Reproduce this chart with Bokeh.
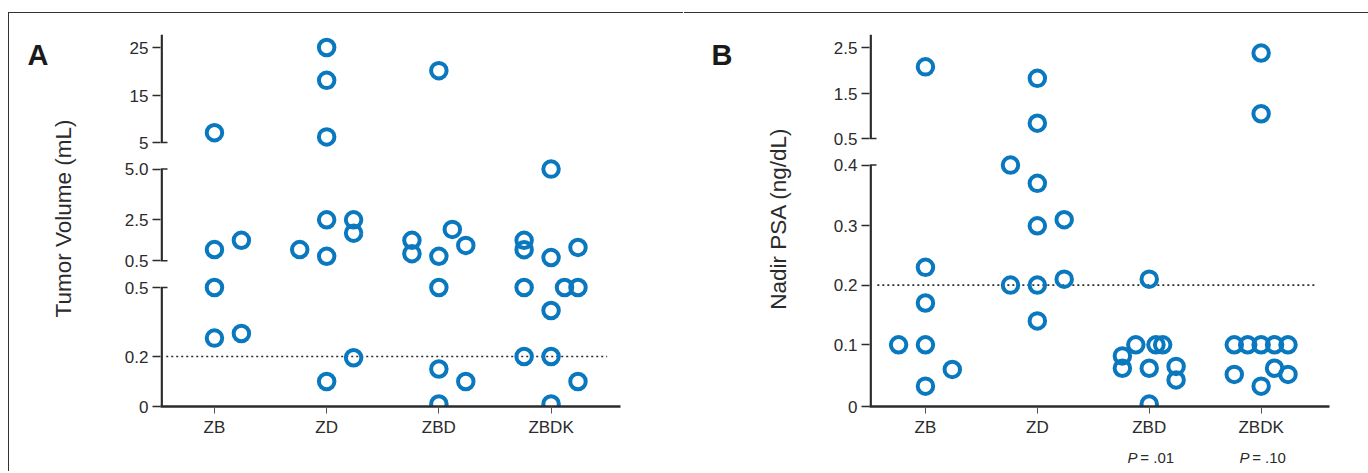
import numpy as np
from bokeh.plotting import figure
from bokeh.layouts import row
from bokeh.models import Range1d, FixedTicker, Label, InlineStyleSheet
from bokeh.embed import file_html
from bokeh.resources import INLINE

# ---------------- data ----------------
categories = ["ZB", "ZD", "ZBD", "ZBDK"]

# Panel A: tumor volume (mL); slot = horizontal jitter step of each point
tv_zb = [7.1, 1.05, 1.5, 0.5, 0.28, 0.3]
tv_zb_slot = [0, 0, 2, 0, 0, 2]
tv_zd = [25, 18.2, 6.2, 2.5, 2.5, 1.85, 1.05, 0.72, 0.195, 0.1]
tv_zd_slot = [0, 0, 0, 0, 2, 2, -2, 0, 2, 0]
tv_zbd = [20.2, 2.03, 1.5, 0.85, 0.72, 1.25, 0.5, 0.15, 0.1, 0.01]
tv_zbd_slot = [0, 1, -2, -2, 0, 2, 0, 0, 2, 0]
tv_zbdk = [5.0, 1.5, 1.04, 0.66, 1.15, 0.5, 0.5, 0.5, 0.4, 0.2, 0.2, 0.1, 0.01]
tv_zbdk_slot = [0, -2, -2, 0, 2, -2, 1, 2, 0, -2, 0, 2, 0]

# Panel B: nadir PSA (ng/dL)
psa_zb = [2.08, 0.23, 0.17, 0.1, 0.1, 0.06, 0.033]
psa_zb_slot = [0, 0, 0, -2, 0, 2, 0]
psa_zd = [1.83, 0.84, 0.4, 0.37, 0.3, 0.31, 0.2, 0.2, 0.21, 0.14]
psa_zd_slot = [0, 0, -2, 0, 0, 2, -2, 0, 2, 0]
psa_zbd = [0.21, 0.082, 0.062, 0.1, 0.062, 0.1, 0.1, 0.004, 0.065, 0.043]
psa_zbd_slot = [0, -2, -2, -1, 0, 0.5, 1, 0, 2, 2]
psa_zbdk = [2.38, 1.05, 0.1, 0.1, 0.1, 0.1, 0.1, 0.052, 0.062, 0.052, 0.033]
psa_zbdk_slot = [0, 0, -2, -1, 0, 1, 2, -2, 1, 2, 0]

threshold = 0.2
p_values = ["", "", ".01", ".10"]

# broken-axis scale definitions: segment tick values, labels, and axis positions (px above baseline)
A_seg_values = [[0, 0.2, 0.5], [0.5, 2.5, 5.0], [5, 15, 25]]
A_seg_labels = [["0", "0.2", "0.5"], ["0.5", "2.5", "5.0"], ["5", "15", "25"]]
A_seg_pos = [[0, 50, 119], [145.7, 186.7, 237.4], [264, 310.7, 359]]

B_seg_values = [[0, 0.1, 0.2, 0.3, 0.4], [0.5, 1.5, 2.5]]
B_seg_labels = [["0", "0.1", "0.2", "0.3", "0.4"], ["0.5", "1.5", "2.5"]]
B_seg_pos = [[0, 61.7, 121.4, 180.7, 241.4], [268, 313, 359]]

SLOT = 0.12
BLUE = "#0a78be"
DARK = "#2b2b2b"
FONT = "Liberation Sans"


def to_pos(values, seg_values, seg_pos):
    out = []
    for v in values:
        for sv, sp in zip(seg_values, seg_pos):
            if v <= sv[-1]:
                out.append(float(np.interp(v, sv, sp)))
                break
        else:
            out.append(float(np.interp(v, seg_values[-1], seg_pos[-1])))
    return out


def make_panel(letter, ylabel, groups, slots, seg_values, seg_labels, seg_pos,
               x_start, x_end, min_left, min_right, standoff, letter_side):
    p = figure(width=684, height=473, output_backend="svg", toolbar_location=None,
               x_range=Range1d(x_start, x_end), y_range=Range1d(0, 376),
               min_border_left=min_left, min_border_right=min_right,
               min_border_top=30, min_border_bottom=67)
    p.outline_line_color = None
    p.grid.visible = False
    p.background_fill_color = "white"
    p.border_fill_color = "white"
    unit = (x_end - x_start) / 460.0   # data units per pixel horizontally

    def xpx(px):  # canvas pixel -> data x
        return x_start + (px - min_left) * unit

    # y axis (ticks and labels only; line segments drawn separately)
    ticks, overrides = [], {}
    for sv, sl, sp in zip(seg_values, seg_labels, seg_pos):
        for v, l, pp in zip(sv, sl, sp):
            ticks.append(pp)
            overrides[pp] = l
    ya = p.yaxis[0]
    ya.ticker = FixedTicker(ticks=ticks)
    ya.major_label_overrides = overrides
    ya.axis_line_color = None
    ya.major_tick_out = 8
    ya.major_tick_in = 0
    ya.major_tick_line_width = 1.5
    ya.major_tick_line_color = DARK
    ya.minor_tick_line_color = None
    ya.major_label_text_font = FONT
    ya.major_label_text_font_size = "17px"
    ya.major_label_text_color = DARK
    ya.major_label_standoff = 4
    ya.axis_label = ylabel
    ya.axis_label_text_font = FONT
    ya.axis_label_text_font_size = "22.5px"
    ya.axis_label_text_font_style = "normal"
    ya.axis_label_text_color = DARK
    ya.axis_label_standoff = standoff

    # x axis
    xa = p.xaxis[0]
    xa.ticker = FixedTicker(ticks=list(range(len(categories))))
    xa.major_label_overrides = {i: c for i, c in enumerate(categories)}
    xa.axis_line_width = 2.7
    xa.axis_line_color = DARK
    xa.major_tick_out = 7
    xa.major_tick_in = 0
    xa.major_tick_line_width = 1
    xa.major_tick_line_color = "#555555"
    xa.minor_tick_line_color = None
    xa.major_label_text_font = FONT
    xa.major_label_text_font_size = "17px"
    xa.major_label_text_color = DARK
    xa.major_label_standoff = 4

    # y axis line segments with break caps
    ax_x = x_start + 1.2 * unit
    for i, sp in enumerate(seg_pos):
        lo = sp[0]
        hi = sp[-1] + (12.7 if i == len(seg_pos) - 1 else 0)
        p.segment(x0=[ax_x], y0=[lo], x1=[ax_x], y1=[hi], line_color=DARK, line_width=2.4)
    for i in range(len(seg_pos) - 1):
        for yy in (seg_pos[i][-1], seg_pos[i + 1][0]):
            p.segment(x0=[x_start], y0=[yy], x1=[x_start + 7 * unit], y1=[yy],
                      line_color=DARK, line_width=1.5)

    # threshold dotted line
    thr = to_pos([threshold], seg_values, seg_pos)[0]
    p.line(x=[-0.43, 3.5], y=[thr, thr], line_color=DARK, line_width=1.6, line_dash="2 3")

    # points
    for ci, (vals, sl) in enumerate(zip(groups, slots)):
        xs = [ci + SLOT * s for s in sl]
        ys = to_pos(vals, seg_values, seg_pos)
        p.scatter(x=xs, y=ys, marker="circle", size=15.5, fill_color=None,
                  line_color=BLUE, line_width=4)

    # panel letter (in a side panel, so it is not clipped to the frame)
    p.add_layout(Label(x=xpx(27), y=406 - 54.5, x_units="data", y_units="data",
                       text=letter, text_font=FONT, text_font_size="29px",
                       text_font_style="bold", text_color="#1a1a1a",
                       text_align="left", text_baseline="alphabetic"), letter_side)
    return p


pA = make_panel("A", "Tumor Volume (mL)",
                [tv_zb, tv_zd, tv_zbd, tv_zbdk],
                [tv_zb_slot, tv_zd_slot, tv_zbd_slot, tv_zbdk_slot],
                A_seg_values, A_seg_labels, A_seg_pos,
                -0.481, 3.619, 160, 64, 46, "left")

pB = make_panel("B", "Nadir PSA (ng/dL)",
                [psa_zb, psa_zd, psa_zbd, psa_zbdk],
                [psa_zb_slot, psa_zd_slot, psa_zbd_slot, psa_zbdk_slot],
                B_seg_values, B_seg_labels, B_seg_pos,
                -0.5, 3.611, 185, 39, 40, "left")

# P-value annotations (spread over side panels with spare room so the frame keeps its size)
rest_sides = ["above", "below"]
k = 0
for ci, pv in enumerate(p_values):
    if not pv:
        continue
    pB.add_layout(Label(x=ci - 0.105, y=-50.7, x_units="data", y_units="data", text="P",
                        text_font=FONT, text_font_size="15px", text_font_style="italic",
                        text_color=DARK, text_align="right", text_baseline="middle"), "left")
    pB.add_layout(Label(x=ci - 0.08, y=-50.7, x_units="data", y_units="data", text="= " + pv,
                        text_font=FONT, text_font_size="15px", text_color=DARK,
                        text_align="left", text_baseline="middle"), rest_sides[k % 2])
    k += 1

# outer frame of the figure: top line across both panels, left line on panel A
# (kept exactly inside each 684x473 figure so nothing overflows the page)
css_a = InlineStyleSheet(css="""
:host { overflow: hidden; }
:host::after {
  content: ""; position: absolute;
  left: 8px; top: 12px; width: 674.5px; height: 459px;
  border-top: 1.5px solid #333333; border-left: 1.5px solid #333333;
  pointer-events: none; z-index: 100;
}
""")
css_b = InlineStyleSheet(css="""
:host { overflow: hidden; }
:host::after {
  content: ""; position: absolute;
  left: 0px; top: 12px; width: 684px; height: 0px;
  border-top: 1.5px solid #333333;
  pointer-events: none; z-index: 100;
}
""")
pA.stylesheets = [css_a]
pB.stylesheets = [css_b]

layout = row(pA, pB)
open("out.html", "w").write(file_html(layout, INLINE))
